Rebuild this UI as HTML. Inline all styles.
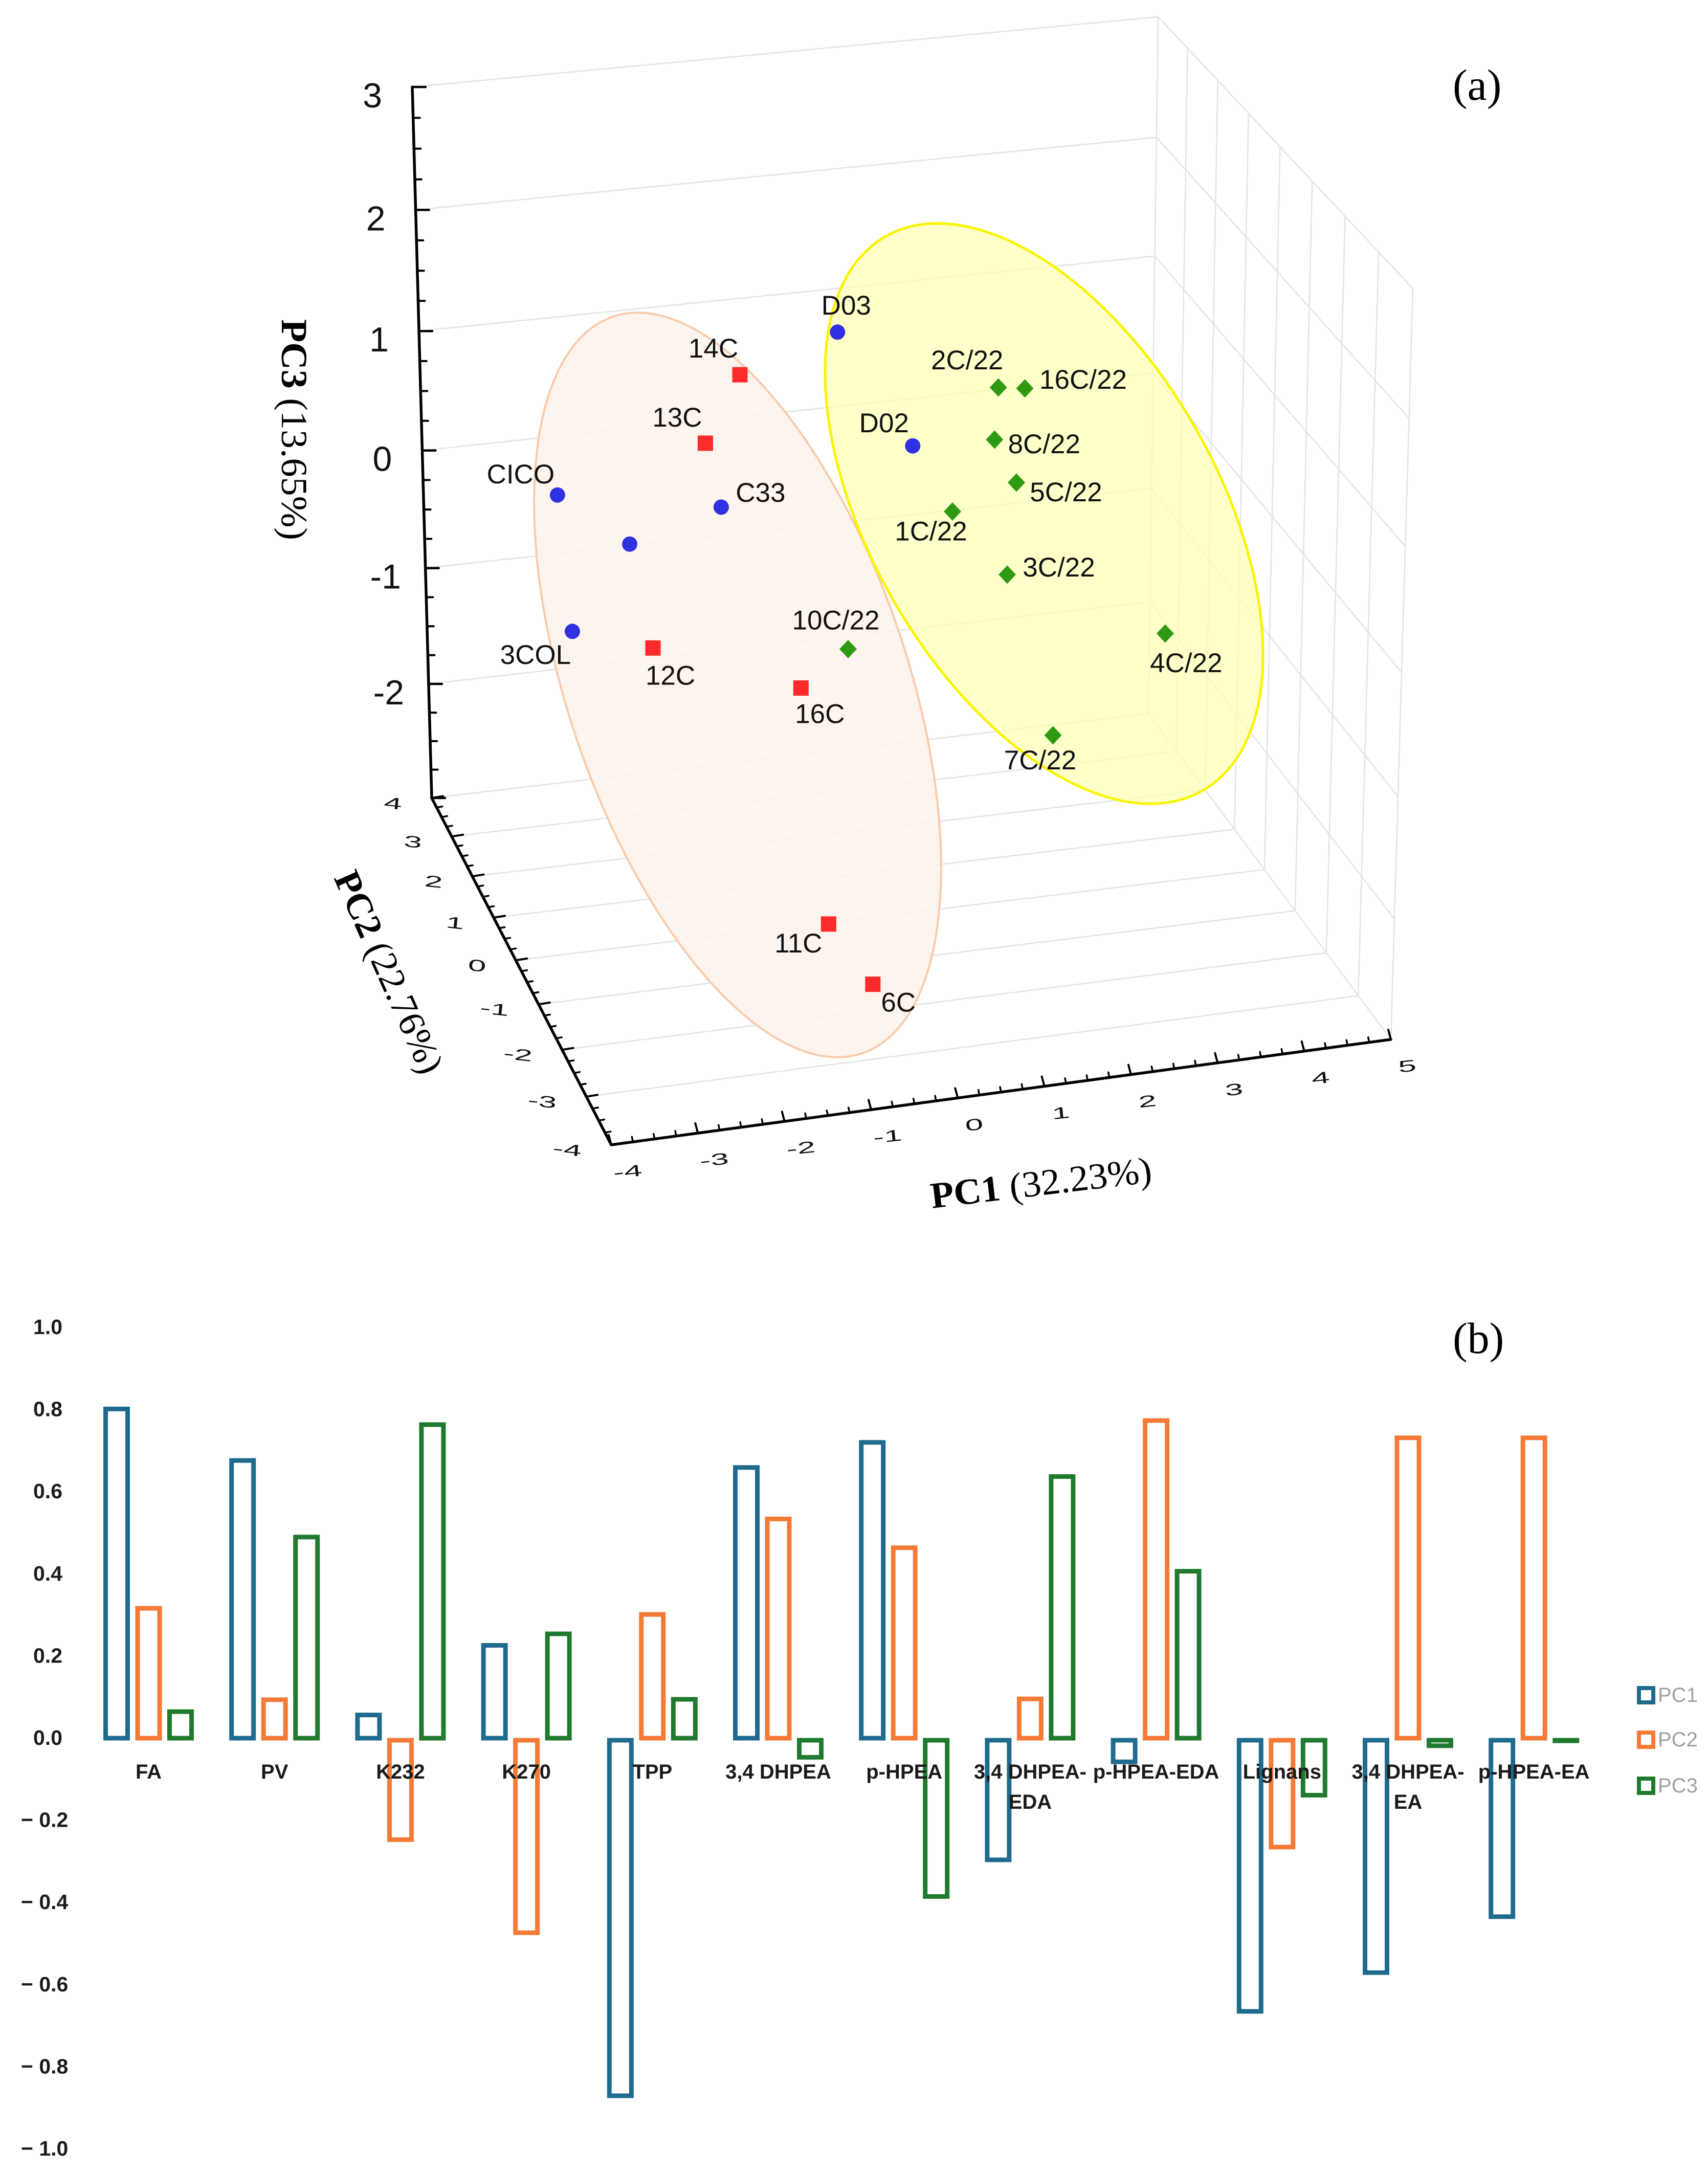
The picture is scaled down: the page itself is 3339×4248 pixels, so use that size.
<!DOCTYPE html>
<html lang="en">
<head>
<meta charset="utf-8">
<title>PCA 3D score plot and loadings bar chart</title>
<style>
html,body{margin:0;padding:0;background:#fff;}
svg{display:block;}
.serif{font-family:"Liberation Serif",serif;}
.sans{font-family:"Liberation Sans",sans-serif;}
</style>
</head>
<body>
<svg id="figure" xmlns="http://www.w3.org/2000/svg" width="3339" height="4248" viewBox="0 0 3339 4248">
  <rect width="3339" height="4248" fill="#ffffff"/>
  <g id="scatter3d">
    <g id="grid3d"></g>
    <ellipse cx="1442" cy="1339" rx="332" ry="760" transform="rotate(-18.7 1442 1339)" fill="#fdf2ea" fill-opacity="0.85" stroke="#f8cbac" stroke-width="4"/>
    <ellipse cx="2041" cy="1004" rx="340" ry="624" transform="rotate(-29.8 2041 1004)" fill="#ffffb4" fill-opacity="0.72" stroke="#f9f400" stroke-width="5"/>
    <g id="axes3d"></g>
    <g id="points3d"></g>
    <text class="serif" font-size="72" fill="#000" transform="translate(551 624) rotate(90)" textLength="432" lengthAdjust="spacingAndGlyphs"><tspan font-weight="bold">PC3</tspan> (13.65%)</text>
    <text class="serif" font-size="72" fill="#000" transform="translate(652 1716) rotate(66)" textLength="425" lengthAdjust="spacingAndGlyphs"><tspan font-weight="bold">PC2</tspan> (22.76%)</text>
    <text class="serif" font-size="72" fill="#000" transform="translate(1822 2362) rotate(-6.8)" textLength="435" lengthAdjust="spacingAndGlyphs"><tspan font-weight="bold">PC1</tspan> (32.23%)</text>
    <text class="serif" font-size="86" fill="#000" x="2840" y="195">(a)</text>
  </g>
  <g id="bars">
    <g id="barMarks"></g>
    <g id="barLabels"></g>
    <g id="barLegend"></g>
    <text class="serif" font-size="86" fill="#000" x="2840" y="2645">(b)</text>
  </g>
</svg>
<script>
/* ---------- score plot data ---------- */
const sampleNames = ["D03","14C","13C","2C/22","16C/22","D02","8C/22","5C/22","CICO","C33","1C/22","","3C/22","3COL","4C/22","12C","10C/22","16C","7C/22","11C","6C"];
const sampleGroups = ["blue","red","red","green","green","blue","green","green","blue","blue","green","blue","green","blue","green","red","green","red","green","red","red"];
const pc1Scores = [-0.12,-1.26,-1.67,1.76,2.07,0.76,1.72,1.98,-3.41,-1.49,1.23,-2.57,1.88,-3.26,3.76,-2.31,0.00,-0.56,2.44,-0.86,-0.34];
const pc2Scores = [0,0,0,0,0,0,0,0,0,0,0,0,0,0,0,0,0,0,0,-2,-2];
const pc3Scores = [1.88,1.62,1.10,1.30,1.27,0.90,0.88,0.51,0.81,0.57,0.33,0.35,-0.24,-0.31,-0.88,-0.52,-0.71,-0.99,-1.63,-2.23,-2.78];
const pc1Ticks = [-4,-3,-2,-1,0,1,2,3,4,5];
const pc2Ticks = [4,3,2,1,0,-1,-2,-3,-4];
const pc3Ticks = [3,2,1,0,-1,-2,-3];

/* ---------- loadings data ---------- */
const variableNames = [["FA"],["PV"],["K232"],["K270"],["TPP"],["3,4 DHPEA"],["p-HPEA"],["3,4 DHPEA-","EDA"],["p-HPEA-EDA"],["Lignans"],["3,4 DHPEA-","EA"],["p-HPEA-EA"]];
const loadingsPC1 = [0.81,0.685,0.067,0.236,-0.869,0.668,0.729,-0.296,-0.058,-0.664,-0.57,-0.434];
const loadingsPC2 = [0.326,0.104,-0.247,-0.473,0.311,0.543,0.473,0.106,0.782,-0.265,0.74,0.74];
const loadingsPC3 = [0.075,0.499,0.772,0.264,0.105,-0.047,-0.385,0.646,0.416,-0.139,-0.019,-0.007];
const loadingTicks = [1,0.8,0.6,0.4,0.2,0,-0.2,-0.4,-0.6,-0.8,-1];
const seriesNames = ["PC1","PC2","PC3"];

/* ---------- layout (not data) ---------- */
const labelNudges = [[17,-51],[-52,-50],[-55,-49],[-61,-52],[114,-16],[-56,-43],[97,10],[97,20],[-72,-39],[77,-27],[-42,40],[0,0],[101,-13],[-72,47],[41,59],[34,55],[-24,-55],[37,52],[-25,50],[-59,39],[50,37]];
const groupFill = {blue:"#3030e4",red:"#ff2a2a",green:"#2e9a12"};
const seriesColor = ["#1f6b8e","#f57a35","#1f7a2e"];

const NS = "http://www.w3.org/2000/svg";
function mk(tag, attrs, parent){
  const el = document.createElementNS(NS, tag);
  for (const k in attrs) el.setAttribute(k, attrs[k]);
  parent.appendChild(el);
  return el;
}

/* ---------- projection ---------- */
const cornerFloor = {c:[844,1560],d:[2245,1395],a:[1195,2238],b:[2719,2032]};
const cornerTop = {c:[806,170],d:[2264,33],a:[1181,742],b:[2762,564]};
function warp(t,k){return t-k*t*(1-t);}
function project(p1,p2,p3){
  const u=(p1+4)/9;
  const v=warp((4-p2)/8,0.128-0.043*u);
  const w=warp((p3+3)/6,0.045);
  const out=[0,0];
  for(let i=0;i<2;i++){
    const f=(1-u)*(1-v)*cornerFloor.c[i]+u*(1-v)*cornerFloor.d[i]+(1-u)*v*cornerFloor.a[i]+u*v*cornerFloor.b[i];
    const g=(1-u)*(1-v)*cornerTop.c[i]+u*(1-v)*cornerTop.d[i]+(1-u)*v*cornerTop.a[i]+u*v*cornerTop.b[i];
    out[i]=f+(g-f)*w;
  }
  return out;
}
function line(parent,a,b,stroke,sw){
  return mk("line",{x1:a[0].toFixed(1),y1:a[1].toFixed(1),x2:b[0].toFixed(1),y2:b[1].toFixed(1),stroke:stroke,"stroke-width":sw,"stroke-linecap":"round"},parent);
}

/* ---------- grid ---------- */
const grid = document.getElementById("grid3d");
const gridColor="#e4e4e4";
pc3Ticks.forEach(z=>{
  const l1=line(grid,project(-4,4,z),project(5,4,z),gridColor,2.5);
  
  
  const l2=line(grid,project(5,4,z),project(5,-4,z),gridColor,2.5);
  
  
});
pc2Ticks.forEach(y=>{
  const l1=line(grid,project(-4,y,-3),project(5,y,-3),gridColor,2.5);
  
  
  const l2=line(grid,project(5,y,-3),project(5,y,3),gridColor,2.5);
  
  
});

/* ---------- axes ---------- */
const axes = document.getElementById("axes3d");
const axis3=line(axes,project(-4,4,3),project(-4,4,-3),"#000",5.5);


const axis2=line(axes,project(-4,4,-3),project(-4,-4,-3),"#000",5.5);


const axis1=line(axes,project(-4,-4,-3),project(5,-4,-3),"#000",5.5);



function tickText(txt,x,y,size,rot,sx,sy,anchor,name){
  const t=mk("text",{x:0,y:0,"font-size":size,"text-anchor":anchor,"dominant-baseline":"central",fill:"#111",class:"sans",
    transform:"translate("+x.toFixed(1)+" "+y.toFixed(1)+") rotate("+rot+") scale("+sx+" "+sy+")"},axes);
  t.textContent=txt;
  
  
}
const subdivisions=[0.25,0.5,0.75];
pc3Ticks.forEach(z=>{
  const p=project(-4,4,z);
  const major=line(axes,p,[p[0]+26,p[1]],"#000",4.5);
  
  
  if(z>-3) tickText(String(z),p[0]-78,p[1]+17,68,0,1,1,"middle",'pc3-tick-label');
  if(z>-3) subdivisions.forEach(s=>{
    const q=project(-4,4,z-s);
    const minor=line(axes,q,[q[0]+13,q[1]],"#000",4);
    
    
  });
});
pc2Ticks.forEach(y=>{
  const p=project(-4,y,-3);
  if(y>-4){
    const major=line(axes,p,[p[0]+22,p[1]-3.5],"#000",4);
    
    
    subdivisions.forEach(s=>{
      const q=project(-4,y-s,-3);
      const minor=line(axes,q,[q[0]+11,q[1]-2],"#000",3.5);
      
      
    });
  }
  tickText(String(y),p[0]-58,p[1]+12,44,6,1.45,0.72,"end",'pc2-tick-label');
});
pc1Ticks.forEach(x=>{
  const p=project(x,-4,-3);
  const major=line(axes,p,[p[0]-5,p[1]-19],"#000",4);
  
  
  if(x<5) subdivisions.forEach(s=>{
    const q=project(x+s,-4,-3);
    const minor=line(axes,q,[q[0]-2,q[1]-10],"#000",3.5);
    
    
  });
  tickText(String(x),p[0]+32,p[1]+52,44,-6,1.45,0.72,"middle",'pc1-tick-label');
});

/* ---------- points ---------- */
const points = document.getElementById("points3d");
sampleNames.forEach((name,i)=>{
  const p=project(pc1Scores[i],pc2Scores[i],pc3Scores[i]);
  const g=sampleGroups[i];
  let m;
  if(g==="blue") m=mk("circle",{cx:p[0].toFixed(1),cy:p[1].toFixed(1),r:15,fill:groupFill[g]},points);
  else if(g==="red") m=mk("rect",{x:(p[0]-15).toFixed(1),y:(p[1]-15).toFixed(1),width:30,height:30,fill:groupFill[g]},points);
  else m=mk("polygon",{points:[[p[0],p[1]-18],[p[0]+17,p[1]],[p[0],p[1]+18],[p[0]-17,p[1]]].map(c=>c[0].toFixed(1)+","+c[1].toFixed(1)).join(" "),fill:groupFill[g]},points);
  
  
  if(name){
    const t=mk("text",{x:(p[0]+labelNudges[i][0]).toFixed(1),y:(p[1]+labelNudges[i][1]-1).toFixed(1),"font-size":53,"text-anchor":"middle","dominant-baseline":"central",fill:"#111",class:"sans"},points);
    t.textContent=name;
    
    
  }
});

/* ---------- bar chart ---------- */
const barMarks=document.getElementById("barMarks");
const barLabels=document.getElementById("barLabels");
const barLegend=document.getElementById("barLegend");
const barStroke=9;
function xCategory(i){return 290.5+246.2*i;}
function yLoading(v){return 3402-805*v;}
function yTick(v){return 3397-803*v;}
[loadingsPC1,loadingsPC2,loadingsPC3].forEach((series,s)=>{
  series.forEach((v,i)=>{
    const left=xCategory(i)-88.5+62.5*s+barStroke/2;
    const top=v>=0?yLoading(v)+barStroke/2:3402;
    const bottom=v>=0?3398:yLoading(v)-barStroke/2;
    const r=mk("rect",{x:left.toFixed(1),y:top.toFixed(1),width:43,height:Math.max(0,bottom-top).toFixed(1),fill:"none",stroke:seriesColor[s],"stroke-width":barStroke},barMarks);
    
    
  });
});
loadingTicks.forEach(v=>{
  const txt=(v<0?"\u2212 ":"")+Math.abs(v).toFixed(1);
  const t=mk("text",{x:v<0?41:65,y:yTick(v).toFixed(1),"font-size":41,"font-weight":"bold","dominant-baseline":"central",fill:"#1c1c1c",class:"sans"},barLabels);
  t.textContent=txt;
  
  
});
variableNames.forEach((lines,i)=>{
  lines.forEach((ln,j)=>{
    const t=mk("text",{x:xCategory(i).toFixed(1),y:3464+59*j,"font-size":40,"font-weight":"bold","text-anchor":"middle","dominant-baseline":"central",fill:"#1a1a1a",class:"sans"},barLabels);
    t.textContent=ln;
    
    
  });
});
const legendRows=[3314,3401,3491];
seriesNames.forEach((name,s)=>{
  const r=mk("rect",{x:3204,y:legendRows[s]-14,width:28,height:28,fill:"none",stroke:seriesColor[s],"stroke-width":8},barLegend);
  
  
  const t=mk("text",{x:3241,y:legendRows[s],"font-size":40,"dominant-baseline":"central",fill:"#a0a0a0",class:"sans"},barLegend);
  t.textContent=name;
  
  
});
</script>
</body>
</html>
